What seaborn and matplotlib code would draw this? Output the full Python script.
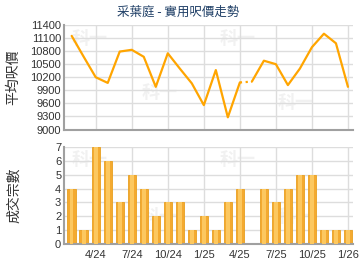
import matplotlib
matplotlib.use("Agg")
import matplotlib.pyplot as plt
import seaborn as sns
import pandas as pd
import numpy as np

months = ["2/24", "3/24", "4/24", "5/24", "6/24", "7/24", "8/24", "9/24", "10/24", "11/24", "12/24",
          "1/25", "2/25", "3/25", "4/25", "5/25", "6/25", "7/25", "8/25", "9/25", "10/25", "11/25",
          "12/25", "1/26"]
price = [11150, 10670, 10200, 10070, 10790, 10830, 10670, 9980, 10750, 10400, 10060,
         9560, 10365, 9280, 10080, 10100, 10580, 10500, 10020, 10400, 10890, 11200,
         10980, 9980]
deals = [4, 1, 7, 6, 3, 5, 4, 2, 3, 3, 1, 2, 1, 3, 4, 0, 4, 3, 4, 5, 5, 1, 1, 1]
tick_labels = ["4/24", "7/24", "10/24", "1/25", "4/25", "7/25", "10/25", "1/26"]
price_ticks = [9000, 9300, 9600, 9900, 10200, 10500, 10800, 11100, 11400]
deal_ticks = [0, 1, 2, 3, 4, 5, 6, 7]
title = "采葉庭 - 實用呎價走勢"
ylabel_top = "平均呎價"
ylabel_bottom = "成交宗數"
watermark = "科一"

sns.set_theme(style="white")
plt.rcParams['font.family'] = ['Liberation Sans', 'Noto Sans CJK TC', 'DejaVu Sans']
cjk = ['Noto Sans CJK TC', 'DejaVu Sans']

df = pd.DataFrame({"idx": np.arange(len(months)), "month": months, "price": price, "deals": deals})
tick_pos = [months.index(t) for t in tick_labels]

fig = plt.figure(figsize=(3.6, 2.7), dpi=100)
W, H = 360, 270
def box(l, t, r, b):
    return [l / W, 1 - b / H, (r - l) / W, (b - t) / H]

ax1 = fig.add_axes(box(64, 25, 353, 129.5))
ax2 = fig.add_axes(box(64, 147, 353, 244))

grid_c = "#DDDDDD"
axis_c = "#A0A0A0"
line_c = "#FFA500"

for ax in (ax1, ax2):
    ax.set_facecolor("white")
    for s in ("top", "right"):
        ax.spines[s].set_visible(False)
    for s in ("left", "bottom"):
        ax.spines[s].set_color(axis_c)
        ax.spines[s].set_linewidth(1.5)

# watermarks
for ax, pts in ((ax1, [(0.09, 0.87), (0.6, 0.87), (0.33, 0.35), (0.8, 0.26)]),
                (ax2, [(0.09, 0.87), (0.6, 0.87), (0.33, 0.28), (0.8, 0.28)])):
    for (x, y) in pts:
        ax.text(x, y, watermark, transform=ax.transAxes, family=cjk, fontsize=13,
                fontweight='bold', color="#F1F1F1", ha='center', va='center', zorder=0)

# top line chart
solid1 = df.iloc[:15]
dotted = df.iloc[14:16]
solid2 = df.iloc[15:]
sns.lineplot(data=solid1, x="idx", y="price", ax=ax1, color=line_c, linewidth=1.6, zorder=3)
sns.lineplot(data=dotted, x="idx", y="price", ax=ax1, color=line_c, linewidth=1.6,
             linestyle=(0, (1, 1.6)), zorder=3)
sns.lineplot(data=solid2, x="idx", y="price", ax=ax1, color=line_c, linewidth=1.6, zorder=3)
ax1.set_xlim(-0.64, 23.42)
ax1.set_ylim(9000, 11400)
ax1.set_yticks(price_ticks)
ax1.set_yticklabels([str(v) for v in price_ticks], fontsize=8, color="#333333")
ax1.set_xticks(tick_pos)
ax1.set_xticklabels([])
ax1.tick_params(axis='both', length=0, pad=2)
ax1.grid(True, color=grid_c, linewidth=1)
ax1.set_axisbelow(True)
ax1.set_xlabel("")
ax1.set_ylabel(ylabel_top, family=cjk, fontsize=10, color="#333333")
ax1.yaxis.set_label_coords(-0.15, 0.5)

# bottom bar chart
sns.barplot(data=df, x="month", y="deals", ax=ax2, color="#F4AA30", width=0.7,
            edgecolor="#E8A020", linewidth=0.6, saturation=1, zorder=2)
sns.barplot(data=df, x="month", y="deals", ax=ax2, color="#FCC860", width=0.3,
            linewidth=0, saturation=1, zorder=3)
ax2.set_xlim(-0.64, 23.42)
ax2.set_ylim(0, 7)
ax2.set_yticks(deal_ticks)
ax2.set_yticklabels([str(v) for v in deal_ticks], fontsize=8, color="#333333")
ax2.set_xticks(tick_pos)
ax2.set_xticklabels(tick_labels, fontsize=8, color="#333333")
ax2.tick_params(axis='y', length=0, pad=2)
ax2.tick_params(axis='x', length=3, color=axis_c, width=1, pad=1)
ax2.grid(True, color=grid_c, linewidth=1)
ax2.set_axisbelow(True)
ax2.set_xlabel("")
ax2.set_ylabel(ylabel_bottom, family=cjk, fontsize=10, color="#333333")
ax2.yaxis.set_label_coords(-0.15, 0.5)

fig.text(0.495, 0.955, title, family=cjk, fontsize=9, color="#1F3F66", ha='center', va='center')

fig.savefig("out.png", dpi=100)
